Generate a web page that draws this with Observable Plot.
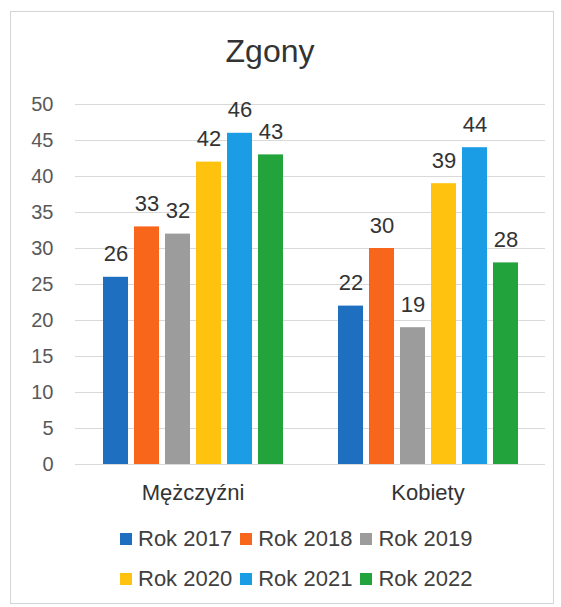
<!DOCTYPE html>
<html>
<head>
<meta charset="utf-8">
<script src="https://cdn.jsdelivr.net/npm/d3@7"></script>
<script src="https://cdn.jsdelivr.net/npm/@observablehq/plot@0.6"></script>
<style>
  body { margin: 0; background: #fff; font-family: "Liberation Sans", Arial, sans-serif; }
  #frame { position: absolute; left: 10px; top: 11px; width: 542px; height: 591px; border: 1px solid #d4d4d4; }
  #title { position: absolute; left: 0; width: 540px; top: 31px; text-align: center; font-size: 32px; color: #333; line-height: 40px; }
  #chart { position: absolute; left: 0; top: 80px; }
  #legend { position: absolute; left: 120px; top: 526px; display: grid; grid-template-columns: repeat(3, auto); column-gap: 8px; row-gap: 14px; font-size: 22px; color: #404040; line-height: 26px; }
  .item { display: flex; align-items: center; }
  .sw { width: 12px; height: 12px; margin-right: 6px; }
</style>
</head>
<body>
<div id="frame"></div>
<div id="title">Zgony</div>
<div id="chart"></div>
<div id="legend"></div>
<script>
const groups = ["Mężczyźni", "Kobiety"];
const years = ["Rok 2017", "Rok 2018", "Rok 2019", "Rok 2020", "Rok 2021", "Rok 2022"];
const men = [26, 33, 32, 42, 46, 43];
const women = [22, 30, 19, 39, 44, 28];
const colors = ["#1f6fc0", "#f8661c", "#9c9c9c", "#ffc20e", "#1b9de6", "#22a33b"];
const yTicks = [0, 5, 10, 15, 20, 25, 30, 35, 40, 45, 50];

const data = [];
groups.forEach((g, gi) => {
  const vals = gi === 0 ? men : women;
  years.forEach((y, i) => data.push({group: g, year: y, value: vals[i]}));
});

const chart = Plot.plot({
  width: 561,
  height: 430,
  marginTop: 24,
  marginBottom: 46,
  marginLeft: 75,
  marginRight: 16,
  style: {fontFamily: "Liberation Sans, Arial, sans-serif", background: "transparent"},
  fx: {domain: groups, paddingInner: 0, paddingOuter: 0, label: null},
  x: {domain: years, paddingInner: 0.2, paddingOuter: 0.84, axis: null},
  y: {domain: [0, 50], label: null},
  color: {domain: years, range: colors},
  marks: [
    Plot.gridY(yTicks, {stroke: "#d9d9d9", strokeOpacity: 1}),
    Plot.axisY(yTicks, {tickSize: 0, tickPadding: 22, fontSize: 20, fill: "#595959", label: null}),
    Plot.barY(data, {fx: "group", x: "year", y: "value", fill: "year"}),
    Plot.text(data, {fx: "group", x: "year", y: "value", text: d => String(d.value), dy: -23, fontSize: 22, fill: "#333"}),
    Plot.axisFx({anchor: "bottom", tickSize: 0, tickPadding: 20, fontSize: 22, fill: "#333", label: null})
  ]
});
document.getElementById("chart").appendChild(chart);

const legend = document.getElementById("legend");
years.forEach((y, i) => {
  const it = document.createElement("div");
  it.className = "item";
  const sw = document.createElement("span");
  sw.className = "sw";
  sw.style.background = colors[i];
  const tx = document.createElement("span");
  tx.textContent = y;
  it.appendChild(sw); it.appendChild(tx);
  legend.appendChild(it);
});
</script>
</body>
</html>
